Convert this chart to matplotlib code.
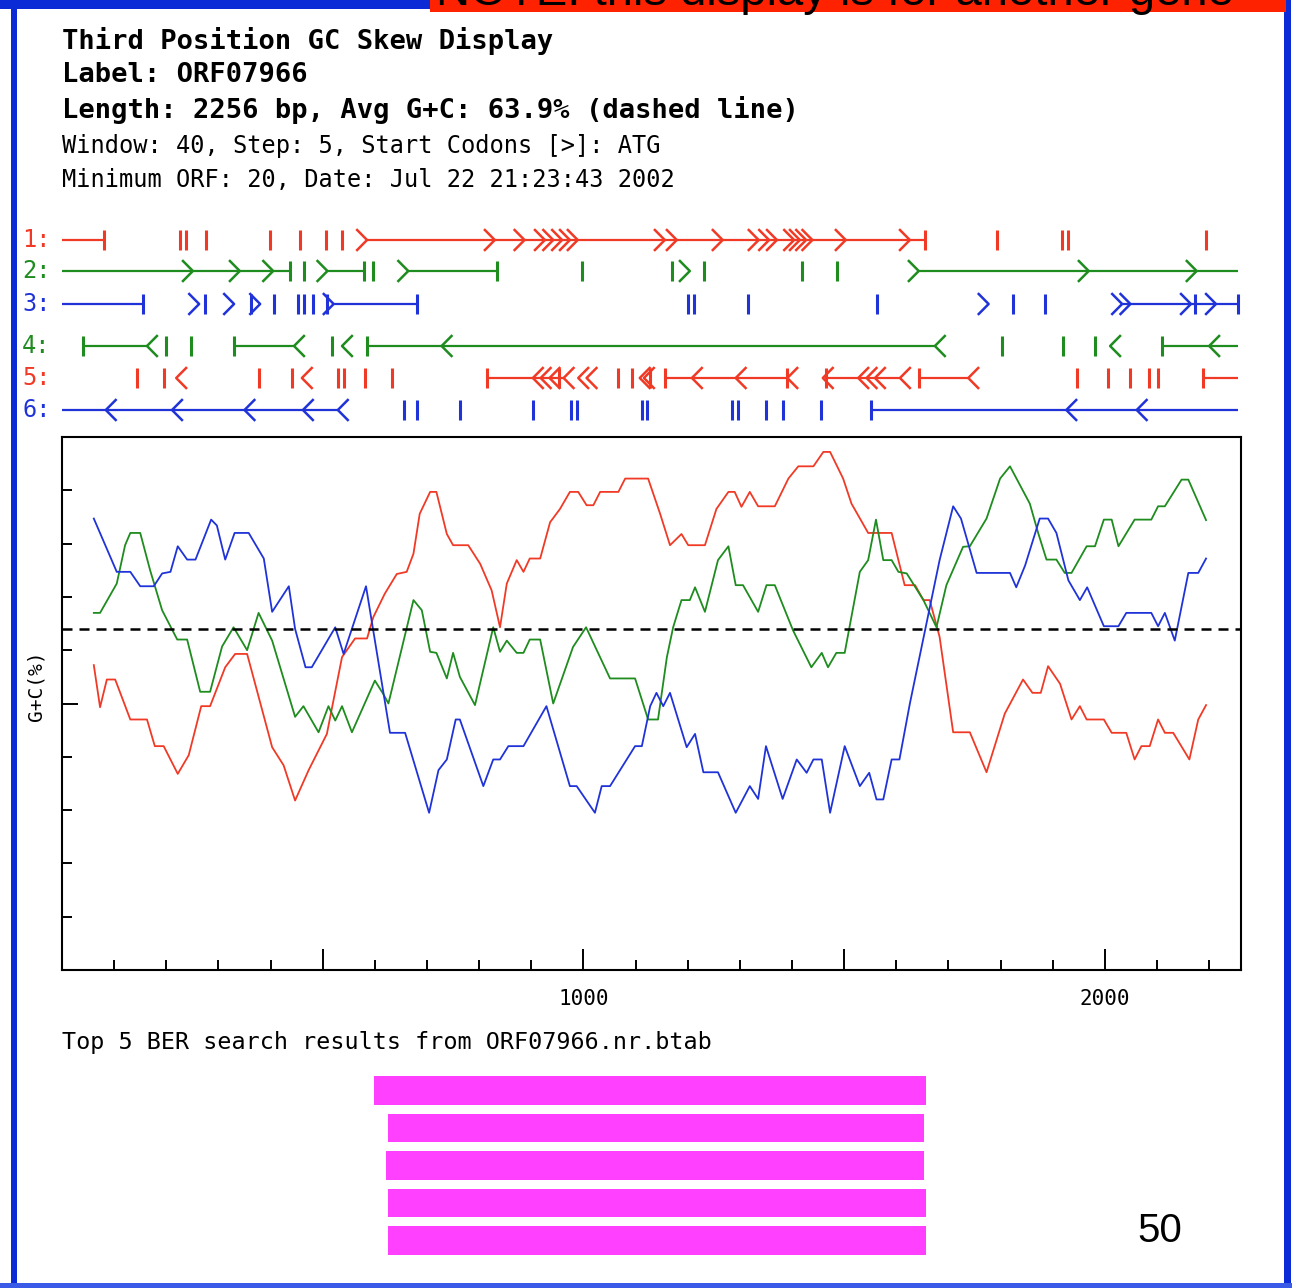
import matplotlib
matplotlib.use("Agg")
import matplotlib.pyplot as plt
from matplotlib.patches import Rectangle

# GC skew curves (position in bp, G+C %)
red_x = [61, 73, 86, 102, 131, 163, 178, 195, 222, 243, 267, 284, 313, 332, 355, 403, 425, 447,
         473, 508, 518, 537, 562, 585, 597, 619, 642, 661, 674, 686, 706, 718, 738, 750, 779, 802,
         824, 840, 853, 872, 885, 897, 917, 936, 955, 974, 990, 1006, 1019, 1032, 1067, 1080, 1124,
         1147, 1166, 1188, 1201, 1233, 1255, 1278, 1290, 1303, 1319, 1335, 1367, 1393, 1412, 1441,
         1460, 1473, 1498, 1514, 1546, 1591, 1616, 1636, 1652, 1664, 1683, 1709, 1741, 1773, 1808,
         1843, 1861, 1877, 1891, 1914, 1936, 1952, 1965, 1998, 2013, 2041, 2057, 2070, 2086, 2102,
         2115, 2131, 2162, 2179, 2194]
red_y = [57.2, 49.3, 54.5, 54.5, 47.0, 47.0, 42.0, 42.0, 36.8, 40.3, 49.5, 49.5, 56.8, 59.3, 59.3,
         41.8, 38.4, 31.8, 37.5, 44.3, 49.3, 58.7, 62.2, 62.2, 66.2, 70.6, 74.3, 74.7, 78.1, 85.6,
         89.7, 89.7, 81.8, 79.7, 79.7, 76.2, 71.2, 64.3, 72.5, 76.9, 74.7, 77.2, 77.2, 84.0, 86.5,
         89.7, 89.7, 87.2, 87.2, 89.7, 89.7, 92.2, 92.2, 85.6, 79.7, 81.8, 79.7, 79.7, 86.5, 89.7,
         89.7, 86.9, 89.7, 87.0, 87.0, 92.2, 94.5, 94.5, 97.2, 97.2, 92.2, 87.5, 82.0, 82.0, 72.2,
         72.2, 69.4, 69.4, 62.5, 44.6, 44.6, 37.1, 48.1, 54.5, 52.0, 52.0, 57.0, 53.7, 47.0, 49.5,
         47.0, 47.0, 44.5, 44.5, 39.5, 42.0, 42.0, 47.0, 44.5, 44.5, 39.5, 47.0, 49.7]

green_x = [61, 73, 105, 121, 131, 150, 169, 192, 221, 240, 265, 284, 307, 329, 355, 377, 403, 447,
           463, 492, 511, 524, 537, 556, 600, 616, 626, 674, 690, 706, 718, 738, 750, 763, 792, 827,
           840, 853, 872, 885, 897, 917, 942, 980, 1005, 1051, 1099, 1124, 1143, 1160, 1172, 1188,
           1204, 1214, 1233, 1258, 1278, 1292, 1306, 1335, 1351, 1367, 1402, 1437, 1457, 1469, 1485,
           1501, 1530, 1546, 1561, 1575, 1591, 1604, 1620, 1652, 1677, 1696, 1728, 1741, 1773, 1799,
           1818, 1856, 1872, 1888, 1907, 1923, 1936, 1965, 1981, 1998, 2013, 2026, 2057, 2089, 2102,
           2115, 2147, 2160, 2194]
green_y = [67.0, 67.0, 72.5, 79.7, 82.0, 82.0, 75.0, 67.5, 62.0, 62.0, 52.2, 52.2, 60.7, 64.3, 60.0,
           67.0, 61.8, 47.5, 49.5, 44.6, 49.5, 46.8, 49.5, 44.6, 54.3, 51.8, 50.0, 69.4, 67.5, 59.7,
           59.5, 54.7, 59.5, 55.0, 49.7, 64.3, 59.7, 61.8, 59.5, 59.5, 62.0, 62.0, 50.0, 60.6, 64.3,
           54.7, 54.7, 47.0, 47.0, 58.7, 64.3, 69.4, 69.4, 71.8, 67.2, 76.9, 79.5, 72.2, 72.2, 67.2,
           72.2, 72.2, 63.7, 56.8, 59.5, 56.8, 59.5, 59.5, 74.7, 76.9, 84.5, 76.9, 76.9, 74.7, 74.4,
           69.4, 64.3, 72.2, 79.4, 79.5, 84.7, 92.2, 94.5, 87.5, 82.0, 77.0, 77.0, 74.5, 74.5, 79.5,
           79.5, 84.5, 84.5, 79.5, 84.5, 84.5, 87.0, 87.0, 92.0, 92.0, 84.4]

blue_x = [61, 83, 105, 131, 150, 176, 192, 208, 222, 240, 256, 286, 297, 313, 331, 358, 387, 403,
          435, 447, 467, 479, 524, 540, 583, 629, 658, 704, 722, 738, 755, 763, 808, 827, 840, 856,
          885, 929, 974, 987, 1022, 1035, 1051, 1083, 1099, 1112, 1128, 1140, 1153, 1166, 1198, 1214,
          1230, 1258, 1292, 1319, 1335, 1350, 1382, 1409, 1428, 1441, 1457, 1473, 1501, 1530, 1548,
          1562, 1575, 1591, 1606, 1626, 1683, 1709, 1724, 1754, 1818, 1830, 1847, 1875, 1891, 1907,
          1930, 1952, 1966, 1998, 2026, 2041, 2089, 2102, 2115, 2134, 2160, 2179, 2194]
blue_y = [84.7, 79.7, 74.7, 74.7, 72.0, 72.0, 74.4, 74.7, 79.5, 77.0, 77.0, 84.5, 83.4, 77.0, 82.0,
          82.0, 77.2, 67.2, 72.0, 64.0, 56.8, 56.8, 64.3, 59.3, 72.0, 44.5, 44.5, 29.5, 37.5, 39.5,
          47.0, 47.0, 34.5, 39.5, 39.5, 42.0, 42.0, 49.5, 34.5, 34.5, 29.5, 34.5, 34.5, 39.5, 42.0,
          42.0, 49.5, 52.0, 49.5, 52.0, 41.8, 44.3, 37.1, 37.1, 29.5, 34.5, 32.1, 42.0, 32.1, 39.5,
          37.0, 39.5, 39.5, 29.5, 42.0, 34.5, 37.0, 32.0, 32.0, 39.5, 39.5, 50.0, 76.9, 87.0, 84.7,
          74.5, 74.5, 71.8, 75.9, 84.7, 84.7, 82.0, 73.1, 69.4, 71.8, 64.5, 64.5, 67.0, 67.0, 64.5,
          67.0, 61.8, 74.5, 74.5, 77.2]

avg_gc = 63.9
seq_len = 2256

# reading frames: stop codons, start codons, ORF spans (bp)
stops1 = [80, 226, 238, 276, 399, 456, 506, 537, 1655, 1793, 1917, 1929, 2193]
starts1 = [585, 830, 887, 926, 942, 959, 974, 989, 1156, 1179, 1267, 1336, 1356, 1371,
           1404, 1415, 1427, 1439, 1503, 1626]
orfs1 = [(0, 80), (585, 1655)]

stops2 = [437, 464, 579, 596, 835, 998, 1170, 1232, 1419, 1487]
starts2 = [251, 341, 405, 509, 664, 1204, 1643, 1969, 2176]
orfs2 = [(0, 437), (509, 579), (664, 835), (1643, 2256)]

stops3 = [155, 274, 362, 406, 452, 465, 481, 509, 680, 1200, 1212, 1315, 1563, 1824, 1885,
          2173, 2256]
starts3 = [263, 330, 380, 521, 1777, 2033, 2049, 2165, 2213]
orfs3 = [(0, 155), (521, 680), (2033, 2256)]

stops4 = [40, 199, 247, 330, 517, 585, 1802, 1920, 1981, 2109]
starts4 = [163, 445, 537, 728, 1674, 2010, 2200]
orfs4 = [(40, 163), (330, 445), (585, 1674), (2109, 2256)]

stops5 = [143, 195, 378, 442, 530, 540, 581, 632, 815, 954, 1066, 1093, 1127, 1156, 1391,
          1465, 1643, 1946, 2005, 2049, 2085, 2101, 2189]
starts5 = [219, 460, 903, 918, 935, 962, 990, 1006, 1108, 1116, 1208, 1292, 1391, 1459,
           1527, 1543, 1559, 1607, 1738]
orfs5 = [(815, 962), (1156, 1391), (1465, 1607), (1643, 1738), (2189, 2256)]

stops6 = [656, 680, 763, 903, 977, 987, 1112, 1122, 1284, 1296, 1351, 1383, 1455, 1551]
starts6 = [84, 211, 350, 462, 529, 1926, 2061]
orfs6 = [(0, 529), (1551, 2256)]

# top 5 BER hits (bp span on the ORF)
hit_start = [598, 625, 621, 625, 625]
hit_end = [1657, 1653, 1653, 1657, 1657]

RED = "#f03a26"
GREEN = "#1e8c1e"
BLUE = "#1f33d8"
MONO = "DejaVu Sans Mono"

W, H = 1292, 1288
XMAX = 2261


def rect(x0, y0, x1, y1):
    return [x0 / W, 1 - y1 / H, (x1 - x0) / W, (y1 - y0) / H]


fig = plt.figure(figsize=(W / 100, H / 100), dpi=100)

# background layer in pixel units: border, header texts
bg = fig.add_axes([0, 0, 1, 1])
bg.set_xlim(0, W)
bg.set_ylim(H, 0)
bg.axis("off")
border = "#0a2bd6"
bg.add_patch(Rectangle((0, 0), 432, 9, color=border, lw=0))
bg.add_patch(Rectangle((11, 0), 6, H, color=border, lw=0))
bg.add_patch(Rectangle((1284, 0), 7, H, color=border, lw=0))
bg.add_patch(Rectangle((0, 1283), W, 5, color="#3a5ae8", lw=0))
note_box = Rectangle((430, 0), 856, 12, color="#ff2200", lw=0)
bg.add_patch(note_box)
note = bg.text(436, 5, "NOTE: this display is for another gene", fontsize=34,
               family="Liberation Sans", va="baseline", ha="left", color="black")
note.set_clip_path(note_box)

bg.text(62, 41, "Third Position GC Skew Display", family=MONO, weight="bold",
        fontsize=19.5, va="center")
bg.text(62, 75, "Label: ORF07966", family=MONO, weight="bold", fontsize=19.5, va="center")
bg.text(62, 110, "Length: %d bp, Avg G+C: %.1f%% (dashed line)" % (seq_len, avg_gc),
        family=MONO, weight="bold", fontsize=19.5, va="center")
bg.text(62, 146, "Window: 40, Step: 5, Start Codons [>]: ATG", family=MONO,
        fontsize=17, va="center")
bg.text(62, 180, "Minimum ORF: 20, Date: Jul 22 21:23:43 2002", family=MONO,
        fontsize=17, va="center")
bg.text(36, 686, "G+C(%)", family=MONO, fontsize=14, rotation=90, va="center", ha="center")
bg.text(62, 1043, "Top 5 BER search results from ORF07966.nr.btab", family=MONO,
        fontsize=16.8, va="center")
bg.text(1160, 1231, "50", family="Liberation Sans", fontsize=29, va="center", ha="center")

# ORF tracks
row_y = [240, 271, 304, 346, 378, 410]
frames = [
    (RED, stops1, starts1, orfs1, True),
    (GREEN, stops2, starts2, orfs2, True),
    (BLUE, stops3, starts3, orfs3, True),
    (GREEN, stops4, starts4, orfs4, False),
    (RED, stops5, starts5, orfs5, False),
    (BLUE, stops6, starts6, orfs6, False),
]
trk = fig.add_axes(rect(62, 220, 1241, 425))
trk.set_xlim(0, XMAX)
trk.set_ylim(425, 220)
trk.axis("off")
aw = 19  # arrow head width in bp
for i, (col, stops, starts, orfs, fwd) in enumerate(frames):
    y = row_y[i]
    for a, b in orfs:
        trk.plot([a, b], [y, y], color=col, lw=1.6, solid_capstyle="butt")
    trk.vlines(stops, y - 10, y + 10, color=col, lw=2.2)
    for s in starts:
        back = s - aw if fwd else s + aw
        trk.plot([back, s, back], [y - 10, y, y + 10], color=col, lw=1.8)
    bg.text(22, y, "%d:" % (i + 1), family=MONO, fontsize=17, color=col, va="center")

# GC skew plot
ax = fig.add_axes(rect(62, 437, 1241, 970))
ax.plot(red_x, red_y, color=RED, lw=1.3)
ax.plot(green_x, green_y, color=GREEN, lw=1.3)
ax.plot(blue_x, blue_y, color=BLUE, lw=1.3)
ax.axhline(avg_gc, color="black", lw=1.8, dashes=(4, 2.8))
ax.set_xlim(0, XMAX)
ax.set_ylim(0, 100)
for s in ax.spines.values():
    s.set_linewidth(1.5)
ax.set_xticks([500, 1000, 1500, 2000])
ax.set_xticklabels(["", "1000", "", "2000"], family=MONO, fontsize=15)
ax.set_xticks(range(100, 2300, 100), minor=True)
ax.set_yticks([50])
ax.set_yticklabels([])
ax.set_yticks([10, 20, 30, 40, 60, 70, 80, 90], minor=True)
ax.tick_params(axis="x", which="major", direction="in", length=15, width=1.4, pad=14)
ax.tick_params(axis="x", which="minor", direction="in", length=7.2, width=1.4)
ax.tick_params(axis="y", which="major", direction="in", length=11.5, width=1.4)
ax.tick_params(axis="y", which="minor", direction="in", length=7.2, width=1.4)

# BER hits
hits = fig.add_axes(rect(62, 1071.75, 1241, 1259.25))
hits.set_xlim(0, XMAX)
hits.set_ylim(4.5, -0.5)
hits.axis("off")
hits.barh(range(len(hit_start)), [e - s for s, e in zip(hit_start, hit_end)],
          left=hit_start, height=0.773, color="#ff40ff")

fig.savefig("out.png", dpi=100)
